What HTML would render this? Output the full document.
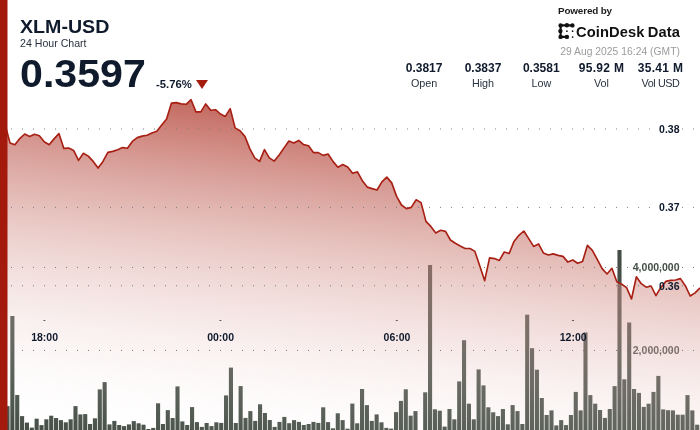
<!DOCTYPE html>
<html><head><meta charset="utf-8"><title>XLM-USD 24 Hour Chart</title>
<style>
html,body{margin:0;padding:0;background:#fff;}
body{width:700px;height:430px;position:relative;overflow:hidden;font-family:"Liberation Sans","DejaVu Sans",sans-serif;color:#0f1a2c;}
#wrap{position:absolute;left:0;top:0;width:700px;height:430px;will-change:transform;}
#chart{position:absolute;left:0;top:0;}
.t{position:absolute;white-space:nowrap;line-height:1;}
#sym{left:20px;top:19px;font-size:17.6px;font-weight:bold;transform-origin:0 0;transform:scaleX(1.115);}
#sub{left:20px;top:37.6px;font-size:10.6px;color:#2a3342;}
#price{left:19.5px;top:54.4px;font-size:39px;font-weight:bold;transform-origin:0 0;transform:scaleX(1.055);}
#chg{left:156px;top:79.2px;font-size:11.3px;font-weight:bold;}
#tri{position:absolute;left:196px;top:80px;width:0;height:0;border-left:6.3px solid transparent;border-right:6.3px solid transparent;border-top:9.4px solid #a51c0e;}
#pw{left:558px;top:5.9px;font-size:9.9px;font-weight:bold;color:#1b1b1b;letter-spacing:-0.15px;}
#cd{right:20px;top:24.7px;font-size:14.7px;font-weight:bold;color:#111;letter-spacing:0.1px;}
#cd span{margin-left:-1px;}
#dt{right:20px;top:47.1px;font-size:10.27px;color:#9b9b9b;letter-spacing:0.05px;}
.col{position:absolute;top:0;width:80px;margin-left:-40px;text-align:center;}
.col b{position:absolute;left:0;right:0;top:61.6px;font-size:12px;line-height:1;font-weight:bold;}
.col i{position:absolute;left:0;right:0;top:77.6px;font-size:10.8px;line-height:1;font-style:normal;color:#2a3342;}
svg text{font-family:"Liberation Sans","DejaVu Sans",sans-serif;font-weight:bold;font-size:10.5px;}
</style></head><body>
<div id="wrap">
<svg id="chart" width="700" height="430" viewBox="0 0 700 430">
<defs><linearGradient id="g" x1="0" y1="0" x2="-48.80" y2="424.39" gradientUnits="userSpaceOnUse"><stop offset="0.000" stop-color="rgb(163,25,10)" stop-opacity="0.977"/><stop offset="0.025" stop-color="rgb(165,31,16)" stop-opacity="0.953"/><stop offset="0.050" stop-color="rgb(168,36,22)" stop-opacity="0.928"/><stop offset="0.075" stop-color="rgb(170,42,28)" stop-opacity="0.904"/><stop offset="0.100" stop-color="rgb(172,48,34)" stop-opacity="0.879"/><stop offset="0.125" stop-color="rgb(174,54,41)" stop-opacity="0.855"/><stop offset="0.150" stop-color="rgb(177,60,47)" stop-opacity="0.830"/><stop offset="0.175" stop-color="rgb(179,65,53)" stop-opacity="0.806"/><stop offset="0.200" stop-color="rgb(181,71,59)" stop-opacity="0.782"/><stop offset="0.225" stop-color="rgb(184,77,65)" stop-opacity="0.757"/><stop offset="0.250" stop-color="rgb(186,82,71)" stop-opacity="0.733"/><stop offset="0.275" stop-color="rgb(188,88,77)" stop-opacity="0.708"/><stop offset="0.300" stop-color="rgb(191,94,84)" stop-opacity="0.684"/><stop offset="0.325" stop-color="rgb(193,100,90)" stop-opacity="0.659"/><stop offset="0.350" stop-color="rgb(195,106,96)" stop-opacity="0.635"/><stop offset="0.375" stop-color="rgb(198,111,102)" stop-opacity="0.611"/><stop offset="0.400" stop-color="rgb(200,117,108)" stop-opacity="0.586"/><stop offset="0.425" stop-color="rgb(202,123,114)" stop-opacity="0.562"/><stop offset="0.450" stop-color="rgb(204,128,120)" stop-opacity="0.537"/><stop offset="0.475" stop-color="rgb(207,134,126)" stop-opacity="0.513"/><stop offset="0.500" stop-color="rgb(209,140,132)" stop-opacity="0.488"/><stop offset="0.525" stop-color="rgb(211,146,139)" stop-opacity="0.464"/><stop offset="0.550" stop-color="rgb(214,152,145)" stop-opacity="0.440"/><stop offset="0.575" stop-color="rgb(216,157,151)" stop-opacity="0.415"/><stop offset="0.600" stop-color="rgb(218,163,157)" stop-opacity="0.391"/><stop offset="0.625" stop-color="rgb(220,169,163)" stop-opacity="0.366"/><stop offset="0.650" stop-color="rgb(223,174,169)" stop-opacity="0.342"/><stop offset="0.675" stop-color="rgb(225,180,175)" stop-opacity="0.318"/><stop offset="0.700" stop-color="rgb(227,186,182)" stop-opacity="0.293"/><stop offset="0.725" stop-color="rgb(230,192,188)" stop-opacity="0.269"/><stop offset="0.750" stop-color="rgb(232,198,194)" stop-opacity="0.244"/><stop offset="0.775" stop-color="rgb(234,203,200)" stop-opacity="0.220"/><stop offset="0.800" stop-color="rgb(237,209,206)" stop-opacity="0.195"/><stop offset="0.825" stop-color="rgb(239,215,212)" stop-opacity="0.171"/><stop offset="0.850" stop-color="rgb(241,220,218)" stop-opacity="0.147"/><stop offset="0.875" stop-color="rgb(244,226,224)" stop-opacity="0.122"/><stop offset="0.900" stop-color="rgb(246,232,230)" stop-opacity="0.098"/><stop offset="0.925" stop-color="rgb(248,238,237)" stop-opacity="0.073"/><stop offset="0.950" stop-color="rgb(250,244,243)" stop-opacity="0.049"/><stop offset="0.975" stop-color="rgb(253,249,249)" stop-opacity="0.024"/><stop offset="1.000" stop-color="rgb(255,255,255)" stop-opacity="0.000"/></linearGradient></defs>
<g fill="#444e46"><rect x="5.46" y="406.1" width="4.1" height="24.9"/><rect x="10.31" y="316.0" width="4.1" height="115.0"/><rect x="15.17" y="395.0" width="4.1" height="36.0"/><rect x="20.03" y="416.1" width="4.1" height="14.9"/><rect x="24.88" y="422.6" width="4.1" height="8.4"/><rect x="29.74" y="427.6" width="4.1" height="3.4"/><rect x="34.60" y="418.7" width="4.1" height="12.3"/><rect x="39.45" y="425.1" width="4.1" height="5.9"/><rect x="44.31" y="419.3" width="4.1" height="11.7"/><rect x="49.17" y="415.7" width="4.1" height="15.3"/><rect x="54.02" y="418.0" width="4.1" height="13.0"/><rect x="58.88" y="420.1" width="4.1" height="10.9"/><rect x="63.74" y="422.3" width="4.1" height="8.7"/><rect x="68.60" y="419.3" width="4.1" height="11.7"/><rect x="73.45" y="406.1" width="4.1" height="24.9"/><rect x="78.31" y="414.4" width="4.1" height="16.6"/><rect x="83.17" y="414.1" width="4.1" height="16.9"/><rect x="88.02" y="424.0" width="4.1" height="7.0"/><rect x="92.88" y="418.3" width="4.1" height="12.7"/><rect x="97.74" y="389.4" width="4.1" height="41.6"/><rect x="102.59" y="382.1" width="4.1" height="48.9"/><rect x="107.45" y="424.4" width="4.1" height="6.6"/><rect x="112.31" y="420.9" width="4.1" height="10.1"/><rect x="117.17" y="425.0" width="4.1" height="6.0"/><rect x="122.02" y="426.1" width="4.1" height="4.9"/><rect x="126.88" y="424.4" width="4.1" height="6.6"/><rect x="131.74" y="421.1" width="4.1" height="9.9"/><rect x="136.59" y="423.3" width="4.1" height="7.7"/><rect x="141.45" y="424.7" width="4.1" height="6.3"/><rect x="146.31" y="429.0" width="4.1" height="2.0"/><rect x="151.17" y="427.9" width="4.1" height="3.1"/><rect x="156.02" y="403.3" width="4.1" height="27.7"/><rect x="160.88" y="424.0" width="4.1" height="7.0"/><rect x="165.74" y="410.1" width="4.1" height="20.9"/><rect x="170.59" y="418.0" width="4.1" height="13.0"/><rect x="175.45" y="386.4" width="4.1" height="44.6"/><rect x="180.31" y="421.4" width="4.1" height="9.6"/><rect x="185.16" y="425.0" width="4.1" height="6.0"/><rect x="190.02" y="407.1" width="4.1" height="23.9"/><rect x="194.88" y="422.1" width="4.1" height="8.9"/><rect x="199.74" y="426.9" width="4.1" height="4.1"/><rect x="204.59" y="423.0" width="4.1" height="8.0"/><rect x="209.45" y="426.1" width="4.1" height="4.9"/><rect x="214.31" y="422.3" width="4.1" height="8.7"/><rect x="219.16" y="422.9" width="4.1" height="8.1"/><rect x="224.02" y="395.4" width="4.1" height="35.6"/><rect x="228.88" y="367.6" width="4.1" height="63.4"/><rect x="233.73" y="423.0" width="4.1" height="8.0"/><rect x="238.59" y="386.1" width="4.1" height="44.9"/><rect x="243.45" y="417.9" width="4.1" height="13.1"/><rect x="248.31" y="411.1" width="4.1" height="19.9"/><rect x="253.16" y="420.9" width="4.1" height="10.1"/><rect x="258.02" y="404.3" width="4.1" height="26.7"/><rect x="262.88" y="413.0" width="4.1" height="18.0"/><rect x="267.73" y="420.0" width="4.1" height="11.0"/><rect x="272.59" y="426.9" width="4.1" height="4.1"/><rect x="277.45" y="421.9" width="4.1" height="9.1"/><rect x="282.30" y="416.9" width="4.1" height="14.1"/><rect x="287.16" y="423.2" width="4.1" height="7.8"/><rect x="292.02" y="420.1" width="4.1" height="10.9"/><rect x="296.88" y="421.9" width="4.1" height="9.1"/><rect x="301.73" y="425.0" width="4.1" height="6.0"/><rect x="306.59" y="424.0" width="4.1" height="7.0"/><rect x="311.45" y="421.9" width="4.1" height="9.1"/><rect x="316.30" y="422.9" width="4.1" height="8.1"/><rect x="321.16" y="407.3" width="4.1" height="23.7"/><rect x="326.02" y="422.1" width="4.1" height="8.9"/><rect x="330.87" y="428.3" width="4.1" height="2.7"/><rect x="335.73" y="413.3" width="4.1" height="17.7"/><rect x="340.59" y="420.1" width="4.1" height="10.9"/><rect x="345.44" y="428.7" width="4.1" height="2.3"/><rect x="350.30" y="403.6" width="4.1" height="27.4"/><rect x="355.16" y="423.3" width="4.1" height="7.7"/><rect x="360.02" y="389.0" width="4.1" height="42.0"/><rect x="364.87" y="405.1" width="4.1" height="25.9"/><rect x="369.73" y="420.9" width="4.1" height="10.1"/><rect x="374.59" y="414.4" width="4.1" height="16.6"/><rect x="379.44" y="422.3" width="4.1" height="8.7"/><rect x="384.30" y="427.9" width="4.1" height="3.1"/><rect x="389.16" y="428.6" width="4.1" height="2.4"/><rect x="394.01" y="412.1" width="4.1" height="18.9"/><rect x="398.87" y="400.9" width="4.1" height="30.1"/><rect x="403.73" y="389.3" width="4.1" height="41.7"/><rect x="408.59" y="415.7" width="4.1" height="15.3"/><rect x="413.44" y="411.1" width="4.1" height="19.9"/><rect x="423.16" y="392.3" width="4.1" height="38.7"/><rect x="428.01" y="265.0" width="4.1" height="166.0"/><rect x="432.87" y="409.3" width="4.1" height="21.7"/><rect x="437.73" y="410.7" width="4.1" height="20.3"/><rect x="442.58" y="426.6" width="4.1" height="4.4"/><rect x="447.44" y="409.0" width="4.1" height="22.0"/><rect x="452.30" y="419.3" width="4.1" height="11.7"/><rect x="457.16" y="381.4" width="4.1" height="49.6"/><rect x="462.01" y="340.2" width="4.1" height="90.8"/><rect x="466.87" y="403.7" width="4.1" height="27.3"/><rect x="471.73" y="419.3" width="4.1" height="11.7"/><rect x="476.58" y="369.4" width="4.1" height="61.6"/><rect x="481.44" y="385.4" width="4.1" height="45.6"/><rect x="486.30" y="407.3" width="4.1" height="23.7"/><rect x="491.16" y="412.3" width="4.1" height="18.7"/><rect x="496.01" y="416.1" width="4.1" height="14.9"/><rect x="500.87" y="409.0" width="4.1" height="22.0"/><rect x="505.73" y="424.3" width="4.1" height="6.7"/><rect x="510.58" y="405.1" width="4.1" height="25.9"/><rect x="515.44" y="411.1" width="4.1" height="19.9"/><rect x="520.30" y="424.0" width="4.1" height="7.0"/><rect x="525.15" y="314.7" width="4.1" height="116.3"/><rect x="530.01" y="348.2" width="4.1" height="82.8"/><rect x="534.87" y="369.7" width="4.1" height="61.3"/><rect x="539.73" y="398.0" width="4.1" height="33.0"/><rect x="544.58" y="415.0" width="4.1" height="16.0"/><rect x="549.44" y="410.4" width="4.1" height="20.6"/><rect x="554.30" y="425.4" width="4.1" height="5.6"/><rect x="559.15" y="420.1" width="4.1" height="10.9"/><rect x="564.01" y="425.1" width="4.1" height="5.9"/><rect x="568.87" y="415.0" width="4.1" height="16.0"/><rect x="573.72" y="391.9" width="4.1" height="39.1"/><rect x="578.58" y="410.4" width="4.1" height="20.6"/><rect x="583.44" y="332.4" width="4.1" height="98.6"/><rect x="588.30" y="395.1" width="4.1" height="35.9"/><rect x="593.15" y="403.7" width="4.1" height="27.3"/><rect x="598.01" y="410.0" width="4.1" height="21.0"/><rect x="602.87" y="417.9" width="4.1" height="13.1"/><rect x="607.72" y="409.0" width="4.1" height="22.0"/><rect x="612.58" y="386.1" width="4.1" height="44.9"/><rect x="617.44" y="250.0" width="4.1" height="181.0"/><rect x="622.29" y="379.3" width="4.1" height="51.7"/><rect x="627.15" y="322.5" width="4.1" height="108.5"/><rect x="632.01" y="389.0" width="4.1" height="42.0"/><rect x="636.87" y="392.9" width="4.1" height="38.1"/><rect x="641.72" y="406.9" width="4.1" height="24.1"/><rect x="646.58" y="403.7" width="4.1" height="27.3"/><rect x="651.44" y="391.9" width="4.1" height="39.1"/><rect x="656.29" y="375.9" width="4.1" height="55.1"/><rect x="661.15" y="409.4" width="4.1" height="21.6"/><rect x="666.01" y="410.2" width="4.1" height="20.8"/><rect x="670.86" y="410.4" width="4.1" height="20.6"/><rect x="675.72" y="414.7" width="4.1" height="16.3"/><rect x="680.58" y="414.7" width="4.1" height="16.3"/><rect x="685.44" y="395.1" width="4.1" height="35.9"/><rect x="690.29" y="410.4" width="4.1" height="20.6"/><rect x="695.15" y="424.7" width="4.1" height="6.3"/></g>
<g fill="#444e46" text-anchor="end">
<text x="679.5" y="271.3">4,000,000</text>
<text x="679.5" y="354.4">2,000,000</text>
</g>
<path d="M5.10,124.50 L9.99,142.90 L14.89,144.70 L19.78,138.60 L24.67,134.00 L29.57,136.40 L34.46,134.30 L39.36,135.70 L44.25,141.70 L49.14,144.70 L54.04,138.90 L58.93,133.60 L63.82,148.40 L68.72,148.10 L73.61,150.40 L78.50,160.40 L83.40,153.30 L88.29,156.10 L93.19,161.40 L98.08,168.10 L102.97,161.40 L107.87,152.40 L112.76,151.40 L117.65,149.70 L122.55,147.60 L127.44,148.30 L132.34,141.40 L137.23,137.60 L142.12,136.10 L147.02,135.30 L151.91,133.00 L156.80,131.20 L161.70,125.00 L166.59,119.00 L171.48,103.10 L176.38,102.60 L181.27,103.90 L186.17,104.30 L191.06,99.70 L195.95,111.90 L200.85,111.90 L205.74,103.90 L210.63,110.30 L215.53,109.70 L220.42,114.00 L225.31,116.40 L230.21,108.60 L235.10,127.90 L240.00,130.70 L244.89,136.40 L249.78,148.60 L254.68,157.90 L259.57,161.40 L264.46,149.60 L269.36,157.90 L274.25,161.10 L279.15,155.00 L284.04,147.90 L288.93,141.10 L293.83,142.90 L298.72,140.40 L303.61,144.60 L308.51,145.70 L313.40,152.60 L318.29,152.60 L323.19,155.40 L328.08,154.00 L332.98,161.40 L337.87,167.20 L342.76,164.60 L347.66,167.10 L352.55,173.30 L357.44,171.90 L362.34,180.70 L367.23,187.10 L372.12,188.60 L377.02,190.00 L381.91,181.90 L386.81,177.10 L391.70,182.90 L396.59,196.40 L401.49,205.00 L406.38,208.60 L411.27,207.40 L416.17,199.80 L421.06,202.60 L425.95,221.40 L430.85,226.40 L435.74,232.90 L440.64,230.30 L445.53,231.40 L450.42,240.00 L455.32,243.30 L460.21,246.00 L465.10,248.50 L470.00,248.50 L474.89,251.40 L479.79,266.10 L484.68,280.70 L489.57,257.90 L494.47,258.60 L499.36,260.40 L504.25,252.00 L509.15,253.50 L514.04,241.40 L518.93,235.30 L523.83,231.00 L528.72,238.60 L533.62,246.40 L538.51,243.90 L543.40,252.90 L548.30,255.00 L553.19,253.90 L558.08,255.40 L562.98,256.40 L567.87,262.10 L572.76,260.00 L577.66,263.30 L582.55,261.40 L587.45,245.30 L592.34,250.30 L597.23,259.30 L602.13,268.60 L607.02,274.00 L611.91,268.30 L616.81,281.80 L621.70,284.30 L626.60,287.60 L631.49,299.00 L636.38,276.80 L641.28,283.70 L646.17,287.20 L651.06,286.00 L655.96,295.70 L660.85,287.40 L665.74,281.40 L670.64,280.40 L675.53,280.00 L680.43,278.60 L685.32,285.70 L690.21,296.00 L695.11,292.90 L700.00,287.90 L700,430 L5.1,430 Z" fill="url(#g)"/>
<g fill="#757a81" fill-opacity="0.95"><rect x="11.00" y="128.50" width="1" height="1"/><rect x="22.00" y="128.50" width="1" height="1"/><rect x="33.00" y="128.50" width="1" height="1"/><rect x="44.00" y="128.50" width="1" height="1"/><rect x="55.00" y="128.50" width="1" height="1"/><rect x="66.00" y="128.50" width="1" height="1"/><rect x="77.00" y="128.50" width="1" height="1"/><rect x="88.00" y="128.50" width="1" height="1"/><rect x="99.00" y="128.50" width="1" height="1"/><rect x="110.00" y="128.50" width="1" height="1"/><rect x="121.00" y="128.50" width="1" height="1"/><rect x="132.00" y="128.50" width="1" height="1"/><rect x="143.00" y="128.50" width="1" height="1"/><rect x="154.00" y="128.50" width="1" height="1"/><rect x="165.00" y="128.50" width="1" height="1"/><rect x="176.00" y="128.50" width="1" height="1"/><rect x="187.00" y="128.50" width="1" height="1"/><rect x="198.00" y="128.50" width="1" height="1"/><rect x="209.00" y="128.50" width="1" height="1"/><rect x="220.00" y="128.50" width="1" height="1"/><rect x="231.00" y="128.50" width="1" height="1"/><rect x="242.00" y="128.50" width="1" height="1"/><rect x="253.00" y="128.50" width="1" height="1"/><rect x="264.00" y="128.50" width="1" height="1"/><rect x="275.00" y="128.50" width="1" height="1"/><rect x="286.00" y="128.50" width="1" height="1"/><rect x="297.00" y="128.50" width="1" height="1"/><rect x="308.00" y="128.50" width="1" height="1"/><rect x="319.00" y="128.50" width="1" height="1"/><rect x="330.00" y="128.50" width="1" height="1"/><rect x="341.00" y="128.50" width="1" height="1"/><rect x="352.00" y="128.50" width="1" height="1"/><rect x="363.00" y="128.50" width="1" height="1"/><rect x="374.00" y="128.50" width="1" height="1"/><rect x="385.00" y="128.50" width="1" height="1"/><rect x="396.00" y="128.50" width="1" height="1"/><rect x="407.00" y="128.50" width="1" height="1"/><rect x="418.00" y="128.50" width="1" height="1"/><rect x="429.00" y="128.50" width="1" height="1"/><rect x="440.00" y="128.50" width="1" height="1"/><rect x="451.00" y="128.50" width="1" height="1"/><rect x="462.00" y="128.50" width="1" height="1"/><rect x="473.00" y="128.50" width="1" height="1"/><rect x="484.00" y="128.50" width="1" height="1"/><rect x="495.00" y="128.50" width="1" height="1"/><rect x="506.00" y="128.50" width="1" height="1"/><rect x="517.00" y="128.50" width="1" height="1"/><rect x="528.00" y="128.50" width="1" height="1"/><rect x="539.00" y="128.50" width="1" height="1"/><rect x="550.00" y="128.50" width="1" height="1"/><rect x="561.00" y="128.50" width="1" height="1"/><rect x="572.00" y="128.50" width="1" height="1"/><rect x="583.00" y="128.50" width="1" height="1"/><rect x="594.00" y="128.50" width="1" height="1"/><rect x="605.00" y="128.50" width="1" height="1"/><rect x="616.00" y="128.50" width="1" height="1"/><rect x="627.00" y="128.50" width="1" height="1"/><rect x="638.00" y="128.50" width="1" height="1"/><rect x="649.00" y="128.50" width="1" height="1"/><rect x="660.00" y="128.50" width="1" height="1"/><rect x="671.00" y="128.50" width="1" height="1"/><rect x="682.00" y="128.50" width="1" height="1"/><rect x="693.00" y="128.50" width="1" height="1"/><rect x="11.00" y="206.90" width="1" height="1"/><rect x="22.00" y="206.90" width="1" height="1"/><rect x="33.00" y="206.90" width="1" height="1"/><rect x="44.00" y="206.90" width="1" height="1"/><rect x="55.00" y="206.90" width="1" height="1"/><rect x="66.00" y="206.90" width="1" height="1"/><rect x="77.00" y="206.90" width="1" height="1"/><rect x="88.00" y="206.90" width="1" height="1"/><rect x="99.00" y="206.90" width="1" height="1"/><rect x="110.00" y="206.90" width="1" height="1"/><rect x="121.00" y="206.90" width="1" height="1"/><rect x="132.00" y="206.90" width="1" height="1"/><rect x="143.00" y="206.90" width="1" height="1"/><rect x="154.00" y="206.90" width="1" height="1"/><rect x="165.00" y="206.90" width="1" height="1"/><rect x="176.00" y="206.90" width="1" height="1"/><rect x="187.00" y="206.90" width="1" height="1"/><rect x="198.00" y="206.90" width="1" height="1"/><rect x="209.00" y="206.90" width="1" height="1"/><rect x="220.00" y="206.90" width="1" height="1"/><rect x="231.00" y="206.90" width="1" height="1"/><rect x="242.00" y="206.90" width="1" height="1"/><rect x="253.00" y="206.90" width="1" height="1"/><rect x="264.00" y="206.90" width="1" height="1"/><rect x="275.00" y="206.90" width="1" height="1"/><rect x="286.00" y="206.90" width="1" height="1"/><rect x="297.00" y="206.90" width="1" height="1"/><rect x="308.00" y="206.90" width="1" height="1"/><rect x="319.00" y="206.90" width="1" height="1"/><rect x="330.00" y="206.90" width="1" height="1"/><rect x="341.00" y="206.90" width="1" height="1"/><rect x="352.00" y="206.90" width="1" height="1"/><rect x="363.00" y="206.90" width="1" height="1"/><rect x="374.00" y="206.90" width="1" height="1"/><rect x="385.00" y="206.90" width="1" height="1"/><rect x="396.00" y="206.90" width="1" height="1"/><rect x="407.00" y="206.90" width="1" height="1"/><rect x="418.00" y="206.90" width="1" height="1"/><rect x="429.00" y="206.90" width="1" height="1"/><rect x="440.00" y="206.90" width="1" height="1"/><rect x="451.00" y="206.90" width="1" height="1"/><rect x="462.00" y="206.90" width="1" height="1"/><rect x="473.00" y="206.90" width="1" height="1"/><rect x="484.00" y="206.90" width="1" height="1"/><rect x="495.00" y="206.90" width="1" height="1"/><rect x="506.00" y="206.90" width="1" height="1"/><rect x="517.00" y="206.90" width="1" height="1"/><rect x="528.00" y="206.90" width="1" height="1"/><rect x="539.00" y="206.90" width="1" height="1"/><rect x="550.00" y="206.90" width="1" height="1"/><rect x="561.00" y="206.90" width="1" height="1"/><rect x="572.00" y="206.90" width="1" height="1"/><rect x="583.00" y="206.90" width="1" height="1"/><rect x="594.00" y="206.90" width="1" height="1"/><rect x="605.00" y="206.90" width="1" height="1"/><rect x="616.00" y="206.90" width="1" height="1"/><rect x="627.00" y="206.90" width="1" height="1"/><rect x="638.00" y="206.90" width="1" height="1"/><rect x="649.00" y="206.90" width="1" height="1"/><rect x="660.00" y="206.90" width="1" height="1"/><rect x="671.00" y="206.90" width="1" height="1"/><rect x="682.00" y="206.90" width="1" height="1"/><rect x="693.00" y="206.90" width="1" height="1"/><rect x="11.00" y="285.25" width="1" height="1"/><rect x="22.00" y="285.25" width="1" height="1"/><rect x="33.00" y="285.25" width="1" height="1"/><rect x="44.00" y="285.25" width="1" height="1"/><rect x="55.00" y="285.25" width="1" height="1"/><rect x="66.00" y="285.25" width="1" height="1"/><rect x="77.00" y="285.25" width="1" height="1"/><rect x="88.00" y="285.25" width="1" height="1"/><rect x="99.00" y="285.25" width="1" height="1"/><rect x="110.00" y="285.25" width="1" height="1"/><rect x="121.00" y="285.25" width="1" height="1"/><rect x="132.00" y="285.25" width="1" height="1"/><rect x="143.00" y="285.25" width="1" height="1"/><rect x="154.00" y="285.25" width="1" height="1"/><rect x="165.00" y="285.25" width="1" height="1"/><rect x="176.00" y="285.25" width="1" height="1"/><rect x="187.00" y="285.25" width="1" height="1"/><rect x="198.00" y="285.25" width="1" height="1"/><rect x="209.00" y="285.25" width="1" height="1"/><rect x="220.00" y="285.25" width="1" height="1"/><rect x="231.00" y="285.25" width="1" height="1"/><rect x="242.00" y="285.25" width="1" height="1"/><rect x="253.00" y="285.25" width="1" height="1"/><rect x="264.00" y="285.25" width="1" height="1"/><rect x="275.00" y="285.25" width="1" height="1"/><rect x="286.00" y="285.25" width="1" height="1"/><rect x="297.00" y="285.25" width="1" height="1"/><rect x="308.00" y="285.25" width="1" height="1"/><rect x="319.00" y="285.25" width="1" height="1"/><rect x="330.00" y="285.25" width="1" height="1"/><rect x="341.00" y="285.25" width="1" height="1"/><rect x="352.00" y="285.25" width="1" height="1"/><rect x="363.00" y="285.25" width="1" height="1"/><rect x="374.00" y="285.25" width="1" height="1"/><rect x="385.00" y="285.25" width="1" height="1"/><rect x="396.00" y="285.25" width="1" height="1"/><rect x="407.00" y="285.25" width="1" height="1"/><rect x="418.00" y="285.25" width="1" height="1"/><rect x="429.00" y="285.25" width="1" height="1"/><rect x="440.00" y="285.25" width="1" height="1"/><rect x="451.00" y="285.25" width="1" height="1"/><rect x="462.00" y="285.25" width="1" height="1"/><rect x="473.00" y="285.25" width="1" height="1"/><rect x="484.00" y="285.25" width="1" height="1"/><rect x="495.00" y="285.25" width="1" height="1"/><rect x="506.00" y="285.25" width="1" height="1"/><rect x="517.00" y="285.25" width="1" height="1"/><rect x="528.00" y="285.25" width="1" height="1"/><rect x="539.00" y="285.25" width="1" height="1"/><rect x="550.00" y="285.25" width="1" height="1"/><rect x="561.00" y="285.25" width="1" height="1"/><rect x="572.00" y="285.25" width="1" height="1"/><rect x="583.00" y="285.25" width="1" height="1"/><rect x="594.00" y="285.25" width="1" height="1"/><rect x="605.00" y="285.25" width="1" height="1"/><rect x="616.00" y="285.25" width="1" height="1"/><rect x="627.00" y="285.25" width="1" height="1"/><rect x="638.00" y="285.25" width="1" height="1"/><rect x="649.00" y="285.25" width="1" height="1"/><rect x="660.00" y="285.25" width="1" height="1"/><rect x="671.00" y="285.25" width="1" height="1"/><rect x="682.00" y="285.25" width="1" height="1"/><rect x="693.00" y="285.25" width="1" height="1"/></g><g fill="#777474" fill-opacity="0.95"><rect x="11.00" y="266.95" width="1" height="1"/><rect x="22.00" y="266.95" width="1" height="1"/><rect x="33.00" y="266.95" width="1" height="1"/><rect x="44.00" y="266.95" width="1" height="1"/><rect x="55.00" y="266.95" width="1" height="1"/><rect x="66.00" y="266.95" width="1" height="1"/><rect x="77.00" y="266.95" width="1" height="1"/><rect x="88.00" y="266.95" width="1" height="1"/><rect x="99.00" y="266.95" width="1" height="1"/><rect x="110.00" y="266.95" width="1" height="1"/><rect x="121.00" y="266.95" width="1" height="1"/><rect x="132.00" y="266.95" width="1" height="1"/><rect x="143.00" y="266.95" width="1" height="1"/><rect x="154.00" y="266.95" width="1" height="1"/><rect x="165.00" y="266.95" width="1" height="1"/><rect x="176.00" y="266.95" width="1" height="1"/><rect x="187.00" y="266.95" width="1" height="1"/><rect x="198.00" y="266.95" width="1" height="1"/><rect x="209.00" y="266.95" width="1" height="1"/><rect x="220.00" y="266.95" width="1" height="1"/><rect x="231.00" y="266.95" width="1" height="1"/><rect x="242.00" y="266.95" width="1" height="1"/><rect x="253.00" y="266.95" width="1" height="1"/><rect x="264.00" y="266.95" width="1" height="1"/><rect x="275.00" y="266.95" width="1" height="1"/><rect x="286.00" y="266.95" width="1" height="1"/><rect x="297.00" y="266.95" width="1" height="1"/><rect x="308.00" y="266.95" width="1" height="1"/><rect x="319.00" y="266.95" width="1" height="1"/><rect x="330.00" y="266.95" width="1" height="1"/><rect x="341.00" y="266.95" width="1" height="1"/><rect x="352.00" y="266.95" width="1" height="1"/><rect x="363.00" y="266.95" width="1" height="1"/><rect x="374.00" y="266.95" width="1" height="1"/><rect x="385.00" y="266.95" width="1" height="1"/><rect x="396.00" y="266.95" width="1" height="1"/><rect x="407.00" y="266.95" width="1" height="1"/><rect x="418.00" y="266.95" width="1" height="1"/><rect x="429.00" y="266.95" width="1" height="1"/><rect x="440.00" y="266.95" width="1" height="1"/><rect x="451.00" y="266.95" width="1" height="1"/><rect x="462.00" y="266.95" width="1" height="1"/><rect x="473.00" y="266.95" width="1" height="1"/><rect x="484.00" y="266.95" width="1" height="1"/><rect x="495.00" y="266.95" width="1" height="1"/><rect x="506.00" y="266.95" width="1" height="1"/><rect x="517.00" y="266.95" width="1" height="1"/><rect x="528.00" y="266.95" width="1" height="1"/><rect x="539.00" y="266.95" width="1" height="1"/><rect x="550.00" y="266.95" width="1" height="1"/><rect x="561.00" y="266.95" width="1" height="1"/><rect x="572.00" y="266.95" width="1" height="1"/><rect x="583.00" y="266.95" width="1" height="1"/><rect x="594.00" y="266.95" width="1" height="1"/><rect x="605.00" y="266.95" width="1" height="1"/><rect x="616.00" y="266.95" width="1" height="1"/><rect x="627.00" y="266.95" width="1" height="1"/><rect x="638.00" y="266.95" width="1" height="1"/><rect x="649.00" y="266.95" width="1" height="1"/><rect x="660.00" y="266.95" width="1" height="1"/><rect x="671.00" y="266.95" width="1" height="1"/><rect x="682.00" y="266.95" width="1" height="1"/><rect x="693.00" y="266.95" width="1" height="1"/><rect x="11.00" y="349.95" width="1" height="1"/><rect x="22.00" y="349.95" width="1" height="1"/><rect x="33.00" y="349.95" width="1" height="1"/><rect x="44.00" y="349.95" width="1" height="1"/><rect x="55.00" y="349.95" width="1" height="1"/><rect x="66.00" y="349.95" width="1" height="1"/><rect x="77.00" y="349.95" width="1" height="1"/><rect x="88.00" y="349.95" width="1" height="1"/><rect x="99.00" y="349.95" width="1" height="1"/><rect x="110.00" y="349.95" width="1" height="1"/><rect x="121.00" y="349.95" width="1" height="1"/><rect x="132.00" y="349.95" width="1" height="1"/><rect x="143.00" y="349.95" width="1" height="1"/><rect x="154.00" y="349.95" width="1" height="1"/><rect x="165.00" y="349.95" width="1" height="1"/><rect x="176.00" y="349.95" width="1" height="1"/><rect x="187.00" y="349.95" width="1" height="1"/><rect x="198.00" y="349.95" width="1" height="1"/><rect x="209.00" y="349.95" width="1" height="1"/><rect x="220.00" y="349.95" width="1" height="1"/><rect x="231.00" y="349.95" width="1" height="1"/><rect x="242.00" y="349.95" width="1" height="1"/><rect x="253.00" y="349.95" width="1" height="1"/><rect x="264.00" y="349.95" width="1" height="1"/><rect x="275.00" y="349.95" width="1" height="1"/><rect x="286.00" y="349.95" width="1" height="1"/><rect x="297.00" y="349.95" width="1" height="1"/><rect x="308.00" y="349.95" width="1" height="1"/><rect x="319.00" y="349.95" width="1" height="1"/><rect x="330.00" y="349.95" width="1" height="1"/><rect x="341.00" y="349.95" width="1" height="1"/><rect x="352.00" y="349.95" width="1" height="1"/><rect x="363.00" y="349.95" width="1" height="1"/><rect x="374.00" y="349.95" width="1" height="1"/><rect x="385.00" y="349.95" width="1" height="1"/><rect x="396.00" y="349.95" width="1" height="1"/><rect x="407.00" y="349.95" width="1" height="1"/><rect x="418.00" y="349.95" width="1" height="1"/><rect x="429.00" y="349.95" width="1" height="1"/><rect x="440.00" y="349.95" width="1" height="1"/><rect x="451.00" y="349.95" width="1" height="1"/><rect x="462.00" y="349.95" width="1" height="1"/><rect x="473.00" y="349.95" width="1" height="1"/><rect x="484.00" y="349.95" width="1" height="1"/><rect x="495.00" y="349.95" width="1" height="1"/><rect x="506.00" y="349.95" width="1" height="1"/><rect x="517.00" y="349.95" width="1" height="1"/><rect x="528.00" y="349.95" width="1" height="1"/><rect x="539.00" y="349.95" width="1" height="1"/><rect x="550.00" y="349.95" width="1" height="1"/><rect x="561.00" y="349.95" width="1" height="1"/><rect x="572.00" y="349.95" width="1" height="1"/><rect x="583.00" y="349.95" width="1" height="1"/><rect x="594.00" y="349.95" width="1" height="1"/><rect x="605.00" y="349.95" width="1" height="1"/><rect x="616.00" y="349.95" width="1" height="1"/><rect x="627.00" y="349.95" width="1" height="1"/><rect x="638.00" y="349.95" width="1" height="1"/><rect x="649.00" y="349.95" width="1" height="1"/><rect x="660.00" y="349.95" width="1" height="1"/><rect x="671.00" y="349.95" width="1" height="1"/><rect x="682.00" y="349.95" width="1" height="1"/><rect x="693.00" y="349.95" width="1" height="1"/></g>
<path d="M5.10,124.50 L9.99,142.90 L14.89,144.70 L19.78,138.60 L24.67,134.00 L29.57,136.40 L34.46,134.30 L39.36,135.70 L44.25,141.70 L49.14,144.70 L54.04,138.90 L58.93,133.60 L63.82,148.40 L68.72,148.10 L73.61,150.40 L78.50,160.40 L83.40,153.30 L88.29,156.10 L93.19,161.40 L98.08,168.10 L102.97,161.40 L107.87,152.40 L112.76,151.40 L117.65,149.70 L122.55,147.60 L127.44,148.30 L132.34,141.40 L137.23,137.60 L142.12,136.10 L147.02,135.30 L151.91,133.00 L156.80,131.20 L161.70,125.00 L166.59,119.00 L171.48,103.10 L176.38,102.60 L181.27,103.90 L186.17,104.30 L191.06,99.70 L195.95,111.90 L200.85,111.90 L205.74,103.90 L210.63,110.30 L215.53,109.70 L220.42,114.00 L225.31,116.40 L230.21,108.60 L235.10,127.90 L240.00,130.70 L244.89,136.40 L249.78,148.60 L254.68,157.90 L259.57,161.40 L264.46,149.60 L269.36,157.90 L274.25,161.10 L279.15,155.00 L284.04,147.90 L288.93,141.10 L293.83,142.90 L298.72,140.40 L303.61,144.60 L308.51,145.70 L313.40,152.60 L318.29,152.60 L323.19,155.40 L328.08,154.00 L332.98,161.40 L337.87,167.20 L342.76,164.60 L347.66,167.10 L352.55,173.30 L357.44,171.90 L362.34,180.70 L367.23,187.10 L372.12,188.60 L377.02,190.00 L381.91,181.90 L386.81,177.10 L391.70,182.90 L396.59,196.40 L401.49,205.00 L406.38,208.60 L411.27,207.40 L416.17,199.80 L421.06,202.60 L425.95,221.40 L430.85,226.40 L435.74,232.90 L440.64,230.30 L445.53,231.40 L450.42,240.00 L455.32,243.30 L460.21,246.00 L465.10,248.50 L470.00,248.50 L474.89,251.40 L479.79,266.10 L484.68,280.70 L489.57,257.90 L494.47,258.60 L499.36,260.40 L504.25,252.00 L509.15,253.50 L514.04,241.40 L518.93,235.30 L523.83,231.00 L528.72,238.60 L533.62,246.40 L538.51,243.90 L543.40,252.90 L548.30,255.00 L553.19,253.90 L558.08,255.40 L562.98,256.40 L567.87,262.10 L572.76,260.00 L577.66,263.30 L582.55,261.40 L587.45,245.30 L592.34,250.30 L597.23,259.30 L602.13,268.60 L607.02,274.00 L611.91,268.30 L616.81,281.80 L621.70,284.30 L626.60,287.60 L631.49,299.00 L636.38,276.80 L641.28,283.70 L646.17,287.20 L651.06,286.00 L655.96,295.70 L660.85,287.40 L665.74,281.40 L670.64,280.40 L675.53,280.00 L680.43,278.60 L685.32,285.70 L690.21,296.00 L695.11,292.90 L700.00,287.90" fill="none" stroke="#a82014" stroke-width="1.65" stroke-linejoin="round"/>
<g fill="#0f1a2c">
<g text-anchor="end">
<text x="679.5" y="132.5">0.38</text>
<text x="679.5" y="211">0.37</text>
<text x="679.5" y="289.5">0.36</text>
</g>
<g text-anchor="middle">
<text x="44.6" y="341">18:00</text>
<text x="220.6" y="341">00:00</text>
<text x="397" y="341">06:00</text>
<text x="573.2" y="341">12:00</text>
</g></g>
<g fill="#222"><rect x="43.4" y="320" width="2" height="0.7"/><rect x="219.4" y="320" width="2" height="0.7"/><rect x="395.8" y="320" width="2" height="0.7"/><rect x="572" y="320" width="2" height="0.7"/></g>
<rect x="0" y="0" width="7.5" height="430" fill="#a3190c"/>
<g id="logo" fill="#111">
<path d="M572.4,25.4 H560.6 V36.9 H566.8" fill="none" stroke="#111" stroke-width="2.1" stroke-linecap="round" stroke-linejoin="round"/>
<circle cx="560.6" cy="25.4" r="2.2"/><circle cx="566.9" cy="25.2" r="2.2"/><circle cx="572.4" cy="25.4" r="2.2"/>
<circle cx="560.4" cy="31.1" r="2.2"/><circle cx="560.6" cy="36.9" r="2.2"/><circle cx="566.9" cy="36.9" r="2.2"/>
<circle cx="566.9" cy="31.2" r="0.85"/><circle cx="572.6" cy="31.2" r="0.85"/><circle cx="572.6" cy="37.1" r="0.85"/>
</g>
</svg>
<div class="t" id="sym">XLM-USD</div>
<div class="t" id="sub">24 Hour Chart</div>
<div class="t" id="price">0.3597</div>
<div class="t" id="chg">-5.76%</div>
<div id="tri"></div>
<div class="t" id="pw">Powered by</div>
<div class="t" id="cd">CoinDesk <span>Data</span></div>
<div class="t" id="dt">29 Aug 2025 16:24 (GMT)</div>
<div class="col" style="left:424.1px"><b>0.3817</b><i>Open</i></div>
<div class="col" style="left:483px"><b>0.3837</b><i>High</i></div>
<div class="col" style="left:541.3px"><b>0.3581</b><i>Low</i></div>
<div class="col" style="left:601.5px"><b style="letter-spacing:0.3px">95.92 M</b><i>Vol</i></div>
<div class="col" style="left:660.5px"><b style="letter-spacing:0.3px">35.41 M</b><i style="letter-spacing:-0.4px">Vol USD</i></div>
</div>
</body></html>
